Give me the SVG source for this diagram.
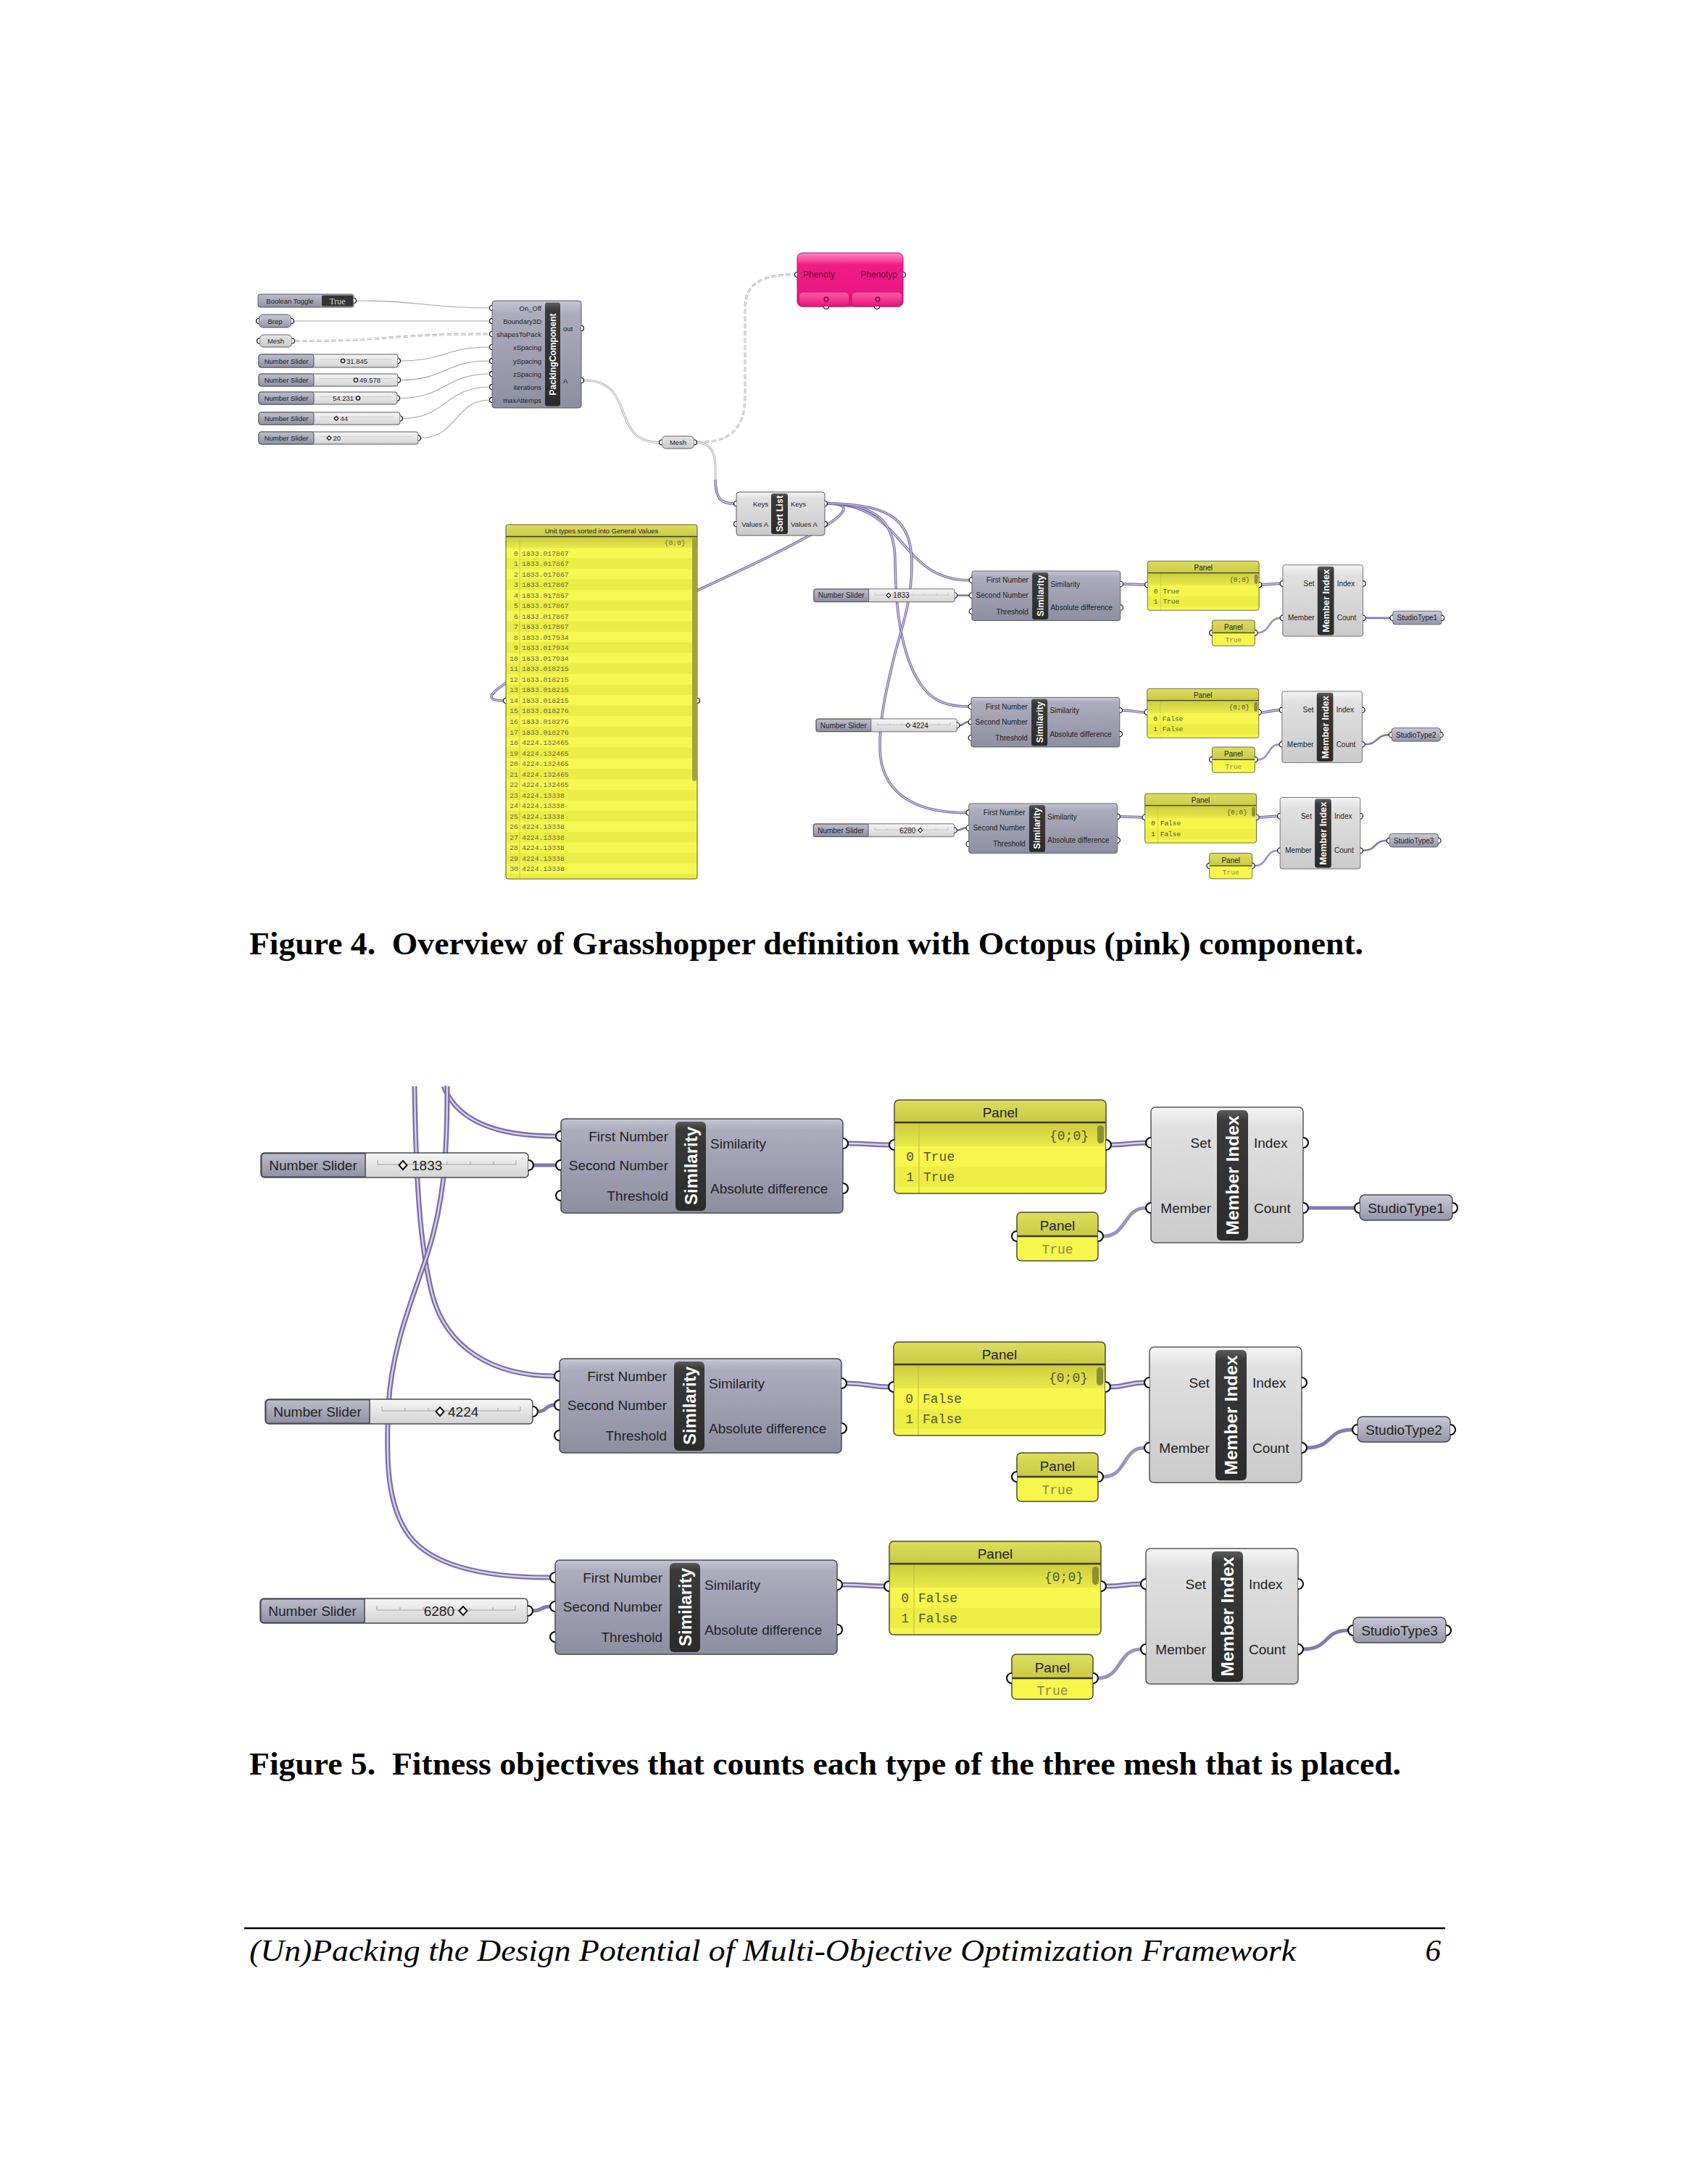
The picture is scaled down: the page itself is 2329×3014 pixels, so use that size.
<svg xmlns="http://www.w3.org/2000/svg" width="2329" height="3014" viewBox="0 0 2329 3014">
<defs>
<style>
.lb{font-family:"Liberation Sans",Arial,sans-serif;font-size:19px;fill:#222}
.s{font-family:"Liberation Sans",Arial,sans-serif;font-size:9.5px;fill:#222}
.bar{font-family:"Liberation Sans",Arial,sans-serif;font-weight:bold;font-size:24px;fill:#fff}
.bar4{font-family:"Liberation Sans",Arial,sans-serif;font-weight:bold;font-size:12px;fill:#fff}
.mo{font-family:"Liberation Mono","DejaVu Sans Mono",monospace;font-size:18px;fill:#55552c}
.mt{fill:#8a8a4c}
.mo4{font-family:"Liberation Mono","DejaVu Sans Mono",monospace;font-size:9.8px;fill:#6d6d3a}
.cap{font-family:"Liberation Serif","Times New Roman",serif;fill:#000}
.g1{fill:none;stroke:#a4a4a4;stroke-width:1.1}
.gd{fill:none;stroke:#b0b0b0;stroke-width:3}
.gdi{fill:none;stroke:#fbfbfb;stroke-width:1.1}
.dash{stroke-dasharray:7 3}
.pw{fill:none;stroke:#7a6da7;stroke-width:7}
.pwi{fill:none;stroke:#d9d3ec;stroke-width:2.4}
.ps{fill:none;stroke:#8479b0;stroke-width:5}
.pl{fill:none;stroke:#9c93c4;stroke-width:5}
.p4{fill:none;stroke:#7a6da7;stroke-width:3.6}
.p4i{fill:none;stroke:#d9d3ec;stroke-width:1.2}
.trk{fill:none;stroke:#a0a0a0;stroke-width:1}
.trk4{fill:none;stroke:#c2c2c2;stroke-width:0.8}
.dia{fill:#fff;stroke:#111;stroke-width:2}
.dia4{fill:#fff;stroke:#111;stroke-width:1.2}
.nb{stroke:#474752;stroke-width:1.5}
.nb4{stroke:#474752;stroke-width:0.9}
</style>
<linearGradient id="gSim" x1="0" y1="0" x2="0" y2="1"><stop offset="0" stop-color="#c6c6d4"/><stop offset="0.12" stop-color="#acacbd"/><stop offset="1" stop-color="#8e8ea1"/></linearGradient>
<linearGradient id="gLt" x1="0" y1="0" x2="0" y2="1"><stop offset="0" stop-color="#f5f5f5"/><stop offset="0.15" stop-color="#e0e0e0"/><stop offset="1" stop-color="#cbcbcb"/></linearGradient>
<linearGradient id="gBar" x1="0" y1="0" x2="0" y2="1"><stop offset="0" stop-color="#5c5c5c"/><stop offset="0.08" stop-color="#3a3a3a"/><stop offset="1" stop-color="#2b2b2b"/></linearGradient>
<linearGradient id="gSlL" x1="0" y1="0" x2="0" y2="1"><stop offset="0" stop-color="#bdbdcb"/><stop offset="1" stop-color="#9090a3"/></linearGradient>
<linearGradient id="gSlR" x1="0" y1="0" x2="0" y2="1"><stop offset="0" stop-color="#f6f6f6"/><stop offset="1" stop-color="#d3d3d3"/></linearGradient>
<linearGradient id="gHdr" x1="0" y1="0" x2="0" y2="1"><stop offset="0" stop-color="#dede5e"/><stop offset="1" stop-color="#c9c947"/></linearGradient>
<linearGradient id="gSub" x1="0" y1="0" x2="0" y2="1"><stop offset="0" stop-color="#cbcb3f"/><stop offset="1" stop-color="#eaea4a"/></linearGradient>
<linearGradient id="gST" x1="0" y1="0" x2="0" y2="1"><stop offset="0" stop-color="#c8c8d6"/><stop offset="1" stop-color="#9696a9"/></linearGradient>
<linearGradient id="gPink" x1="0" y1="0" x2="0" y2="1"><stop offset="0" stop-color="#ff86c4"/><stop offset="0.17" stop-color="#f73a93"/><stop offset="0.22" stop-color="#f01c86"/><stop offset="1" stop-color="#e8157e"/></linearGradient>
<linearGradient id="gPink2" x1="0" y1="0" x2="0" y2="1"><stop offset="0" stop-color="#ff5aa9"/><stop offset="1" stop-color="#e8137c"/></linearGradient>
<pattern id="stripe" patternUnits="userSpaceOnUse" x="0" y="755.7" width="20" height="29.06"><rect width="20" height="14.53" fill="#f7f752"/><rect y="14.53" width="20" height="14.53" fill="#ecec46"/></pattern>
<path id="pL" d="M0,-7A7,7 0 0 0 0,7" fill="#fff" stroke="#111" stroke-width="2.2"/>
<path id="pR" d="M0,-7A7,7 0 0 1 0,7" fill="#fff" stroke="#111" stroke-width="2.2"/>
<path id="sL" d="M0,-3.5A3.5,3.5 0 0 0 0,3.5" fill="#fff" stroke="#111" stroke-width="1.2"/>
<path id="sR" d="M0,-3.5A3.5,3.5 0 0 1 0,3.5" fill="#fff" stroke="#111" stroke-width="1.2"/>
<path id="sD" d="M-3.5,0A3.5,3.5 0 0 0 3.5,0" fill="#fff" stroke="#111" stroke-width="1.2"/>
</defs>
<rect width="2329" height="3014" fill="#fff"/>

<g id="connectors">
 <g id="wires-fig4">
  <path class="g1" d="M491.5,415 C580,415 590,425 675.5,425"/>
  <path class="g1" d="M405.5,443 L675.5,443"/>
  <path class="gd dash" d="M406.5,470.5 C540,470.5 540,461 675.5,461"/>
  <path class="gdi" d="M406.5,470.5 C540,470.5 540,461 675.5,461"/>
  <path class="g1" d="M552.5,498 C614,498 614,479 675.5,479"/>
  <path class="g1" d="M552.5,524.5 C614,524.5 614,498 675.5,498"/>
  <path class="g1" d="M551.5,549.5 C614,549.5 614,516 675.5,516"/>
  <path class="g1" d="M555.5,577.5 C615,577.5 615,534 675.5,534"/>
  <path class="g1" d="M580.5,604.5 C630,604.5 628,552 675.5,552"/>
  <path class="gd" d="M805.5,525 C880,525 840,610.5 909.5,610.5"/>
  <path class="gdi" d="M805.5,525 C880,525 840,610.5 909.5,610.5"/>
  <path class="gd dash" d="M961.5,610.5 C1010,610.5 1028,590 1028,545 L1028,425 C1028,392 1050,379 1096.5,379"/>
  <path class="gdi" d="M961.5,610.5 C1010,610.5 1028,590 1028,545 L1028,425 C1028,392 1050,379 1096.5,379"/>
  <path class="gd" d="M961.5,610.5 C980,611 987,625 987,645 L987,662"/>
  <path class="gdi" d="M961.5,610.5 C980,611 987,625 987,645 L987,662"/>
  <path class="p4" d="M987,662 C987,688 995,695 1012.5,695"/>
  <path class="p4i" d="M987,662 C987,688 995,695 1012.5,695"/>
  <path class="p4" d="M1141.5,695 C1300,695 560,967 694.5,967"/>
  <path class="p4i" d="M1141.5,695 C1300,695 560,967 694.5,967"/>
  <path class="p4" d="M1141.5,695 C1250,695 1240,800.6 1337,800.6"/>
  <path class="p4i" d="M1141.5,695 C1250,695 1240,800.6 1337,800.6"/>
  <path class="p4" d="M1141.5,695 C1215,695 1235,725 1235,775 C1236,830 1240,880 1258,922 C1275,960 1295,975 1336,975"/>
  <path class="p4i" d="M1141.5,695 C1215,695 1235,725 1235,775 C1236,830 1240,880 1258,922 C1275,960 1295,975 1336,975"/>
  <path class="p4" d="M1141.5,695 C1235,695 1258,722 1258,780 C1258,830 1243,870 1234,905 C1222,955 1214,990 1214,1030 C1214,1090 1255,1121.6 1333,1121.6"/>
  <path class="p4i" d="M1141.5,695 C1235,695 1258,722 1258,780 C1258,830 1243,870 1234,905 C1222,955 1214,990 1214,1030 C1214,1090 1255,1121.6 1333,1121.6"/>
  <g transform="matrix(0.527 0 0 0.527 933 -25.7)">
   <path class="ps" d="M736,1608 H767"/>
   <path class="pw" d="M1170,1578 C1200,1578 1200,1580 1227,1580"/><path class="pwi" d="M1170,1578 C1200,1578 1200,1580 1227,1580"/>
   <path class="pw" d="M1533,1580 C1555,1580 1558,1577 1581,1577"/><path class="pwi" d="M1533,1580 C1555,1580 1558,1577 1581,1577"/>
   <path class="pl" d="M1522,1706 C1555,1706 1550,1667 1581,1667"/>
   <path class="ps" d="M1805,1667 H1869"/>
   <path class="ps" d="M742,1948 C755,1948 752,1939 765,1939"/>
   <path class="pw" d="M1168,1909 C1200,1909 1200,1914 1226,1914"/><path class="pwi" d="M1168,1909 C1200,1909 1200,1914 1226,1914"/>
   <path class="pw" d="M1532,1914 C1555,1914 1556,1908 1579,1908"/><path class="pwi" d="M1532,1914 C1555,1914 1556,1908 1579,1908"/>
   <path class="pl" d="M1522,2038 C1555,2038 1548,1998 1579,1998"/>
   <path class="ps" d="M1803,1998 C1840,1998 1830,1973 1866,1973"/>
   <path class="ps" d="M735,2223 C748,2223 746,2217 759,2217"/>
   <path class="pw" d="M1162,2187 C1195,2187 1195,2189 1220,2189"/><path class="pwi" d="M1162,2187 C1195,2187 1195,2189 1220,2189"/>
   <path class="pw" d="M1526,2189 C1550,2189 1551,2186 1574,2186"/><path class="pwi" d="M1526,2189 C1550,2189 1551,2186 1574,2186"/>
   <path class="pl" d="M1515,2316 C1548,2316 1542,2276 1574,2276"/>
   <path class="ps" d="M1798,2276 C1835,2276 1825,2250 1860,2250"/>
  </g>
 </g>
 <g id="wires-fig5">
  <path class="pw" d="M612,1499 C630,1545 680,1568 767,1568"/><path class="pwi" d="M612,1499 C630,1545 680,1568 767,1568"/>
  <path class="pw" d="M572,1499 C574,1640 580,1720 596,1785 C615,1860 680,1899 765,1899"/><path class="pwi" d="M572,1499 C574,1640 580,1720 596,1785 C615,1860 680,1899 765,1899"/>
  <path class="pw" d="M617,1499 C617,1600 612,1660 590,1730 C570,1790 540,1860 536,1940 C532,2020 535,2080 565,2120 C600,2165 680,2177 759,2177"/><path class="pwi" d="M617,1499 C617,1600 612,1660 590,1730 C570,1790 540,1860 536,1940 C532,2020 535,2080 565,2120 C600,2165 680,2177 759,2177"/>
  <path class="ps" d="M736,1608 H767"/>
  <path class="pw" d="M1170,1578 C1200,1578 1200,1580 1227,1580"/><path class="pwi" d="M1170,1578 C1200,1578 1200,1580 1227,1580"/>
  <path class="pw" d="M1533,1580 C1555,1580 1558,1577 1581,1577"/><path class="pwi" d="M1533,1580 C1555,1580 1558,1577 1581,1577"/>
  <path class="pl" d="M1522,1706 C1555,1706 1550,1667 1581,1667"/>
  <path class="ps" d="M1805,1667 H1869"/>
  <path class="ps" d="M742,1948 C755,1948 752,1939 765,1939"/>
  <path class="pw" d="M1168,1909 C1200,1909 1200,1914 1226,1914"/><path class="pwi" d="M1168,1909 C1200,1909 1200,1914 1226,1914"/>
  <path class="pw" d="M1532,1914 C1555,1914 1556,1908 1579,1908"/><path class="pwi" d="M1532,1914 C1555,1914 1556,1908 1579,1908"/>
  <path class="pl" d="M1522,2038 C1555,2038 1548,1998 1579,1998"/>
  <path class="ps" d="M1803,1998 C1840,1998 1830,1973 1866,1973"/>
  <path class="ps" d="M735,2223 C748,2223 746,2217 759,2217"/>
  <path class="pw" d="M1162,2187 C1195,2187 1195,2189 1220,2189"/><path class="pwi" d="M1162,2187 C1195,2187 1195,2189 1220,2189"/>
  <path class="pw" d="M1526,2189 C1550,2189 1551,2186 1574,2186"/><path class="pwi" d="M1526,2189 C1550,2189 1551,2186 1574,2186"/>
  <path class="pl" d="M1515,2316 C1548,2316 1542,2276 1574,2276"/>
  <path class="ps" d="M1798,2276 C1835,2276 1825,2250 1860,2250"/>
 </g>
</g>

<g id="fig4-left">
 <g id="f4-toggle">
  <rect x="356" y="406" width="132" height="18" rx="3" fill="url(#gSlL)" class="nb4"/>
  <rect x="444" y="407.5" width="43" height="15" rx="2" fill="#333"/>
  <text class="s" x="400" y="418.5" text-anchor="middle">Boolean Toggle</text>
  <text x="465.5" y="419.5" text-anchor="middle" font-family="Liberation Serif, serif" font-size="12" fill="#d8d8d8">True</text>
  <use href="#sR" x="488" y="415"/>
 </g>
 <g id="f4-brep">
  <rect x="357" y="434" width="45" height="18" rx="6" fill="url(#gST)" class="nb4"/>
  <text class="s" x="379.5" y="446.5" text-anchor="middle">Brep</text>
  <use href="#sL" x="357" y="443"/><use href="#sR" x="402" y="443"/>
 </g>
 <g id="f4-mesh1">
  <rect x="358" y="462" width="45" height="17" rx="6" fill="url(#gLt)" class="nb4"/>
  <text class="s" x="380.5" y="474" text-anchor="middle">Mesh</text>
  <use href="#sL" x="358" y="470.5"/><use href="#sR" x="403" y="470.5"/>
 </g>
 <g id="f4-slider-a">
  <rect x="357" y="489" width="192" height="18" rx="3" fill="url(#gSlR)" class="nb4"/>
  <rect x="357" y="489" width="76" height="18" rx="3" fill="url(#gSlL)" class="nb4"/>
  <path class="trk4" d="M441,496H540"/>
  <text class="s" x="395" y="501.5" text-anchor="middle">Number Slider</text>
  <circle cx="473" cy="498" r="2.6" fill="#fff" stroke="#111" stroke-width="1.4"/>
  <text class="s" x="478" y="501.5">31.845</text>
  <use href="#sR" x="549" y="498"/>
 </g>
 <g id="f4-slider-b">
  <rect x="357" y="516" width="192" height="17" rx="3" fill="url(#gSlR)" class="nb4"/>
  <rect x="357" y="516" width="76" height="17" rx="3" fill="url(#gSlL)" class="nb4"/>
  <path class="trk4" d="M441,522.5H540"/>
  <text class="s" x="395" y="528" text-anchor="middle">Number Slider</text>
  <circle cx="491" cy="524.5" r="2.6" fill="#fff" stroke="#111" stroke-width="1.4"/>
  <text class="s" x="496" y="528">49.578</text>
  <use href="#sR" x="549" y="524.5"/>
 </g>
 <g id="f4-slider-c">
  <rect x="357" y="541" width="191" height="17" rx="3" fill="url(#gSlR)" class="nb4"/>
  <rect x="357" y="541" width="76" height="17" rx="3" fill="url(#gSlL)" class="nb4"/>
  <path class="trk4" d="M441,547.5H540"/>
  <text class="s" x="395" y="553" text-anchor="middle">Number Slider</text>
  <text class="s" x="488" y="553" text-anchor="end">54.231</text>
  <circle cx="494" cy="549.5" r="2.6" fill="#fff" stroke="#111" stroke-width="1.4"/>
  <use href="#sR" x="548" y="549.5"/>
 </g>
 <g id="f4-slider-d">
  <rect x="357" y="569" width="195" height="17" rx="3" fill="url(#gSlR)" class="nb4"/>
  <rect x="357" y="569" width="76" height="17" rx="3" fill="url(#gSlL)" class="nb4"/>
  <path class="trk4" d="M441,575.5H543"/>
  <text class="s" x="395" y="581" text-anchor="middle">Number Slider</text>
  <path class="dia4" d="M464,574.5 L467,577.5 L464,580.5 L461,577.5Z"/>
  <text class="s" x="469.5" y="581">44</text>
  <use href="#sR" x="552" y="577.5"/>
 </g>
 <g id="f4-slider-e">
  <rect x="357" y="596" width="220" height="17" rx="3" fill="url(#gSlR)" class="nb4"/>
  <rect x="357" y="596" width="76" height="17" rx="3" fill="url(#gSlL)" class="nb4"/>
  <path class="trk4" d="M441,602.5H568"/>
  <text class="s" x="395" y="608" text-anchor="middle">Number Slider</text>
  <path class="dia4" d="M454,601.5 L457,604.5 L454,607.5 L451,604.5Z"/>
  <text class="s" x="459.5" y="608">20</text>
  <use href="#sR" x="577" y="604.5"/>
 </g>
 <g id="f4-packing">
  <rect x="679" y="415" width="123" height="148" rx="4" fill="url(#gSim)" class="nb4"/>
  <rect x="752" y="417.5" width="21" height="143" rx="3" fill="url(#gBar)"/>
  <text class="bar4" transform="translate(766.8,489) rotate(-90)" text-anchor="middle" textLength="113" lengthAdjust="spacingAndGlyphs">PackingComponent</text>
  <text class="s" x="747" y="428.5" text-anchor="end">On_Off</text>
  <text class="s" x="747" y="446.5" text-anchor="end">Boundary3D</text>
  <text class="s" x="747" y="464.5" text-anchor="end">shapesToPack</text>
  <text class="s" x="747" y="482.5" text-anchor="end">xSpacing</text>
  <text class="s" x="747" y="501.5" text-anchor="end">ySpacing</text>
  <text class="s" x="747" y="519.5" text-anchor="end">zSpacing</text>
  <text class="s" x="747" y="537.5" text-anchor="end">iterations</text>
  <text class="s" x="747" y="555.5" text-anchor="end">maxAttemps</text>
  <text class="s" x="777" y="456.5">out</text>
  <text class="s" x="777" y="528.5">A</text>
  <use href="#sL" x="679" y="425"/><use href="#sL" x="679" y="443"/><use href="#sL" x="679" y="461"/><use href="#sL" x="679" y="479"/>
  <use href="#sL" x="679" y="498"/><use href="#sL" x="679" y="516"/><use href="#sL" x="679" y="534"/><use href="#sL" x="679" y="552"/>
  <use href="#sR" x="802" y="453"/><use href="#sR" x="802" y="525"/>
 </g>
 <g id="f4-mesh2">
  <rect x="913" y="602" width="45" height="17" rx="6" fill="url(#gLt)" class="nb4"/>
  <text class="s" x="935.5" y="614" text-anchor="middle">Mesh</text>
  <use href="#sL" x="913" y="610.5"/><use href="#sR" x="958" y="610.5"/>
 </g>
 <g id="f4-octopus">
  <rect x="1100" y="349" width="146" height="74" rx="7" fill="url(#gPink)" stroke="#b0105f" stroke-width="1"/>
  <rect x="1102" y="403" width="70" height="20" rx="6" fill="url(#gPink2)" stroke="#a80f5a" stroke-width="0.8"/>
  <rect x="1175" y="403" width="70" height="20" rx="6" fill="url(#gPink2)" stroke="#a80f5a" stroke-width="0.8"/>
  <text x="1108" y="383" font-family="Liberation Sans, Arial, sans-serif" font-size="12" fill="#6a0838">Phenoty</text>
  <text x="1238" y="383" text-anchor="end" font-family="Liberation Sans, Arial, sans-serif" font-size="12" fill="#6a0838">Phenotyp</text>
  <circle cx="1140" cy="413" r="2.8" fill="none" stroke="#6a0838" stroke-width="1.2"/>
  <circle cx="1211" cy="413" r="2.8" fill="none" stroke="#6a0838" stroke-width="1.2"/>
  <use href="#sL" x="1100" y="379"/><use href="#sR" x="1246" y="379"/>
  <use href="#sD" x="1140" y="423"/><use href="#sD" x="1210" y="423"/>
 </g>
 <g id="f4-sortlist">
  <rect x="1016" y="679" width="122" height="60" rx="4" fill="url(#gLt)" class="nb4"/>
  <rect x="1064" y="681" width="23" height="56" rx="3" fill="url(#gBar)"/>
  <text class="bar4" transform="translate(1079.8,709) rotate(-90)" text-anchor="middle" textLength="50" lengthAdjust="spacingAndGlyphs">Sort List</text>
  <text class="s" x="1060" y="698.5" text-anchor="end">Keys</text>
  <text class="s" x="1060" y="726.5" text-anchor="end">Values A</text>
  <text class="s" x="1091" y="698.5">Keys</text>
  <text class="s" x="1091" y="726.5">Values A</text>
  <use href="#sL" x="1016" y="695"/><use href="#sL" x="1016" y="723"/>
  <use href="#sR" x="1138" y="695"/><use href="#sR" x="1138" y="723"/>
 </g>
 <g id="f4-bigpanel">
  <rect x="698" y="724" width="264" height="489" rx="3" fill="url(#stripe)"/>
  <path d="M701,724H959A3,3 0 0 1 962,727V740H698V727A3,3 0 0 1 701,724Z" fill="url(#gHdr)"/>
  <rect x="698" y="740.5" width="264" height="16" fill="url(#gSub)"/>
  <line x1="698" y1="740.5" x2="962" y2="740.5" stroke="#3e3e1e" stroke-width="1.3"/>
  <line x1="717" y1="741" x2="717" y2="1212" stroke="#c2c24a" stroke-width="0.8"/>
  <rect x="955" y="742" width="6" height="336" rx="3" fill="#a3a33a"/>
  <rect x="698" y="724" width="264" height="489" rx="3" fill="none" stroke="#5a5a2a" stroke-width="1"/>
  <text class="s" x="830" y="735.5" text-anchor="middle">Unit types sorted into General Values</text>
  <text class="mo4" x="946" y="752" text-anchor="end" font-size="8.5">{0;0}</text>
  <text class="mo4" text-anchor="end"><tspan x="715" y="766.5">0</tspan><tspan x="715" y="781">1</tspan><tspan x="715" y="795.6">2</tspan><tspan x="715" y="810.1">3</tspan><tspan x="715" y="824.6">4</tspan><tspan x="715" y="839.2">5</tspan><tspan x="715" y="853.7">6</tspan><tspan x="715" y="868.2">7</tspan><tspan x="715" y="882.7">8</tspan><tspan x="715" y="897.3">9</tspan><tspan x="715" y="911.8">10</tspan><tspan x="715" y="926.3">11</tspan><tspan x="715" y="940.9">12</tspan><tspan x="715" y="955.4">13</tspan><tspan x="715" y="969.9">14</tspan><tspan x="715" y="984.4">15</tspan><tspan x="715" y="999">16</tspan><tspan x="715" y="1013.5">17</tspan><tspan x="715" y="1028">18</tspan><tspan x="715" y="1042.6">19</tspan><tspan x="715" y="1057.1">20</tspan><tspan x="715" y="1071.6">21</tspan><tspan x="715" y="1086.2">22</tspan><tspan x="715" y="1100.7">23</tspan><tspan x="715" y="1115.2">24</tspan><tspan x="715" y="1129.7">25</tspan><tspan x="715" y="1144.3">26</tspan><tspan x="715" y="1158.8">27</tspan><tspan x="715" y="1173.3">28</tspan><tspan x="715" y="1187.9">29</tspan><tspan x="715" y="1202.4">30</tspan></text>
  <text class="mo4"><tspan x="720" y="766.5">1833.017867</tspan><tspan x="720" y="781">1833.017867</tspan><tspan x="720" y="795.6">1833.017867</tspan><tspan x="720" y="810.1">1833.017867</tspan><tspan x="720" y="824.6">1833.017867</tspan><tspan x="720" y="839.2">1833.017867</tspan><tspan x="720" y="853.7">1833.017867</tspan><tspan x="720" y="868.2">1833.017867</tspan><tspan x="720" y="882.7">1833.017934</tspan><tspan x="720" y="897.3">1833.017934</tspan><tspan x="720" y="911.8">1833.017934</tspan><tspan x="720" y="926.3">1833.018215</tspan><tspan x="720" y="940.9">1833.018215</tspan><tspan x="720" y="955.4">1833.018215</tspan><tspan x="720" y="969.9">1833.018215</tspan><tspan x="720" y="984.4">1833.018276</tspan><tspan x="720" y="999">1833.018276</tspan><tspan x="720" y="1013.5">1833.018276</tspan><tspan x="720" y="1028">4224.132465</tspan><tspan x="720" y="1042.6">4224.132465</tspan><tspan x="720" y="1057.1">4224.132465</tspan><tspan x="720" y="1071.6">4224.132465</tspan><tspan x="720" y="1086.2">4224.132465</tspan><tspan x="720" y="1100.7">4224.13338</tspan><tspan x="720" y="1115.2">4224.13338</tspan><tspan x="720" y="1129.7">4224.13338</tspan><tspan x="720" y="1144.3">4224.13338</tspan><tspan x="720" y="1158.8">4224.13338</tspan><tspan x="720" y="1173.3">4224.13338</tspan><tspan x="720" y="1187.9">4224.13338</tspan><tspan x="720" y="1202.4">4224.13338</tspan></text>
  <use href="#sL" x="698" y="967"/><use href="#sR" x="962" y="967"/>
 </g>
</g>

<g id="fig4-right" transform="matrix(0.527 0 0 0.527 933 -25.7)">
 <g id="f4-slider1" transform="translate(360,1591)"><rect width="369" height="34" rx="5" fill="url(#gSlR)" class="nb"/><path d="M144,0.75H5A4.25,4.25 0 0 0 0.75,5V29A4.25,4.25 0 0 0 5,33.25H144Z" fill="url(#gSlL)" class="nb"/><text class="lb" x="72" y="24" text-anchor="middle">Number Slider</text><path class="trk" d="M161,16H352M161,10V16M193,12V16M225,12V16M257,12V16M289,12V16M321,12V16M352,10V16"/><path class="dia" d="M196,11L201.5,17L196,23L190.5,17Z"/><text class="lb" x="208" y="24">1833</text><use href="#pR" x="369" y="17"/></g>
 <g id="f4-sim1" transform="translate(774,1544)"><rect width="389" height="130" rx="6" fill="url(#gSim)" class="nb"/><rect x="158" y="4" width="42" height="123" rx="6" fill="url(#gBar)"/><text class="bar" transform="translate(187.5,65) rotate(-90)" text-anchor="middle" textLength="108" lengthAdjust="spacingAndGlyphs">Similarity</text><text class="lb" x="148" y="31" text-anchor="end">First Number</text><text class="lb" x="148" y="71" text-anchor="end">Second Number</text><text class="lb" x="148" y="113" text-anchor="end">Threshold</text><text class="lb" x="206" y="41">Similarity</text><text class="lb" x="206" y="103">Absolute difference</text><use href="#pL" x="0" y="24"/><use href="#pL" x="0" y="64"/><use href="#pL" x="0" y="106"/><use href="#pR" x="389" y="34"/><use href="#pR" x="389" y="96"/></g>
 <g id="f4-panel1" transform="translate(1234,1518)"><rect width="292" height="129" rx="6" fill="#f6f64c"/><rect y="92" width="292" height="28" fill="#eded44"/><path d="M6,0H286A6,6 0 0 1 292,6V31H0V6A6,6 0 0 1 6,0Z" fill="url(#gHdr)"/><rect y="31" width="292" height="33" fill="url(#gSub)"/><line x1="34" y1="31" x2="34" y2="128" stroke="#b9b93e"/><line x1="0" y1="31" x2="292" y2="31" stroke="#3e3e1e" stroke-width="2.5"/><rect x="280" y="35" width="9" height="25" rx="4.5" fill="#8e8e36"/><rect width="292" height="129" rx="6" fill="none" stroke="#4d4d28" stroke-width="1.5"/><text class="lb" x="146" y="24" text-anchor="middle">Panel</text><text class="mo" x="268" y="55" text-anchor="end">{0;0}</text><text class="mo" x="27" y="84" text-anchor="end">0</text><text class="mo" x="40" y="84">True</text><text class="mo" x="27" y="112" text-anchor="end">1</text><text class="mo" x="40" y="112">True</text><use href="#pL" x="0" y="62"/><use href="#pR" x="292" y="62"/></g>
 <g id="f4-memidx1" transform="translate(1588,1528)"><rect width="210" height="187" rx="6" fill="url(#gLt)" stroke="#555" stroke-width="1.5"/><rect x="91" y="4" width="43" height="180" rx="6" fill="url(#gBar)"/><text class="bar" transform="translate(121,94) rotate(-90)" text-anchor="middle" textLength="165" lengthAdjust="spacingAndGlyphs">Member Index</text><text class="lb" x="83" y="56" text-anchor="end">Set</text><text class="lb" x="83" y="146" text-anchor="end">Member</text><text class="lb" x="142" y="56">Index</text><text class="lb" x="142" y="146">Count</text><use href="#pL" x="0" y="49"/><use href="#pL" x="0" y="139"/><use href="#pR" x="210" y="49"/><use href="#pR" x="210" y="139"/></g>
 <g id="f4-tpanel1" transform="translate(1403,1673)"><rect width="112" height="67" rx="6" fill="#f6f64c"/><path d="M6,0H106A6,6 0 0 1 112,6V33H0V6A6,6 0 0 1 6,0Z" fill="url(#gHdr)"/><line x1="0" y1="33" x2="112" y2="33" stroke="#3e3e1e" stroke-width="2.5"/><rect width="112" height="67" rx="6" fill="none" stroke="#4d4d28" stroke-width="1.5"/><text class="lb" x="56" y="25" text-anchor="middle">Panel</text><text class="mo mt" x="56" y="57" text-anchor="middle">True</text><use href="#pL" x="0" y="33"/><use href="#pR" x="112" y="33"/></g>
 <g id="f4-studio1" transform="translate(1876,1649)"><rect width="128" height="35" rx="7" fill="url(#gST)" class="nb"/><text class="lb" x="64" y="25" text-anchor="middle">StudioType1</text><use href="#pL" x="0" y="18"/><use href="#pR" x="128" y="18"/></g>

 <g id="f4-slider2" transform="translate(366,1931)"><rect width="369" height="34" rx="5" fill="url(#gSlR)" class="nb"/><path d="M144,0.75H5A4.25,4.25 0 0 0 0.75,5V29A4.25,4.25 0 0 0 5,33.25H144Z" fill="url(#gSlL)" class="nb"/><text class="lb" x="72" y="24" text-anchor="middle">Number Slider</text><path class="trk" d="M161,16H352M161,10V16M193,12V16M225,12V16M257,12V16M289,12V16M321,12V16M352,10V16"/><path class="dia" d="M241,11L246.5,17L241,23L235.5,17Z"/><text class="lb" x="252" y="24">4224</text><use href="#pR" x="369" y="17"/></g>
 <g id="f4-sim2" transform="translate(772,1875)"><rect width="389" height="130" rx="6" fill="url(#gSim)" class="nb"/><rect x="158" y="4" width="42" height="123" rx="6" fill="url(#gBar)"/><text class="bar" transform="translate(187.5,65) rotate(-90)" text-anchor="middle" textLength="108" lengthAdjust="spacingAndGlyphs">Similarity</text><text class="lb" x="148" y="31" text-anchor="end">First Number</text><text class="lb" x="148" y="71" text-anchor="end">Second Number</text><text class="lb" x="148" y="113" text-anchor="end">Threshold</text><text class="lb" x="206" y="41">Similarity</text><text class="lb" x="206" y="103">Absolute difference</text><use href="#pL" x="0" y="24"/><use href="#pL" x="0" y="64"/><use href="#pL" x="0" y="106"/><use href="#pR" x="389" y="34"/><use href="#pR" x="389" y="96"/></g>
 <g id="f4-panel2" transform="translate(1233,1852)"><rect width="292" height="129" rx="6" fill="#f6f64c"/><rect y="92" width="292" height="28" fill="#eded44"/><path d="M6,0H286A6,6 0 0 1 292,6V31H0V6A6,6 0 0 1 6,0Z" fill="url(#gHdr)"/><rect y="31" width="292" height="33" fill="url(#gSub)"/><line x1="34" y1="31" x2="34" y2="128" stroke="#b9b93e"/><line x1="0" y1="31" x2="292" y2="31" stroke="#3e3e1e" stroke-width="2.5"/><rect x="280" y="35" width="9" height="25" rx="4.5" fill="#8e8e36"/><rect width="292" height="129" rx="6" fill="none" stroke="#4d4d28" stroke-width="1.5"/><text class="lb" x="146" y="24" text-anchor="middle">Panel</text><text class="mo" x="268" y="55" text-anchor="end">{0;0}</text><text class="mo" x="27" y="84" text-anchor="end">0</text><text class="mo" x="40" y="84">False</text><text class="mo" x="27" y="112" text-anchor="end">1</text><text class="mo" x="40" y="112">False</text><use href="#pL" x="0" y="62"/><use href="#pR" x="292" y="62"/></g>
 <g id="f4-memidx2" transform="translate(1586,1859)"><rect width="210" height="187" rx="6" fill="url(#gLt)" stroke="#555" stroke-width="1.5"/><rect x="91" y="4" width="43" height="180" rx="6" fill="url(#gBar)"/><text class="bar" transform="translate(121,94) rotate(-90)" text-anchor="middle" textLength="165" lengthAdjust="spacingAndGlyphs">Member Index</text><text class="lb" x="83" y="56" text-anchor="end">Set</text><text class="lb" x="83" y="146" text-anchor="end">Member</text><text class="lb" x="142" y="56">Index</text><text class="lb" x="142" y="146">Count</text><use href="#pL" x="0" y="49"/><use href="#pL" x="0" y="139"/><use href="#pR" x="210" y="49"/><use href="#pR" x="210" y="139"/></g>
 <g id="f4-tpanel2" transform="translate(1403,2005)"><rect width="112" height="67" rx="6" fill="#f6f64c"/><path d="M6,0H106A6,6 0 0 1 112,6V33H0V6A6,6 0 0 1 6,0Z" fill="url(#gHdr)"/><line x1="0" y1="33" x2="112" y2="33" stroke="#3e3e1e" stroke-width="2.5"/><rect width="112" height="67" rx="6" fill="none" stroke="#4d4d28" stroke-width="1.5"/><text class="lb" x="56" y="25" text-anchor="middle">Panel</text><text class="mo mt" x="56" y="57" text-anchor="middle">True</text><use href="#pL" x="0" y="33"/><use href="#pR" x="112" y="33"/></g>
 <g id="f4-studio2" transform="translate(1873,1955)"><rect width="128" height="35" rx="7" fill="url(#gST)" class="nb"/><text class="lb" x="64" y="25" text-anchor="middle">StudioType2</text><use href="#pL" x="0" y="18"/><use href="#pR" x="128" y="18"/></g>

 <g id="f4-slider3" transform="translate(359,2206)"><rect width="369" height="34" rx="5" fill="url(#gSlR)" class="nb"/><path d="M144,0.75H5A4.25,4.25 0 0 0 0.75,5V29A4.25,4.25 0 0 0 5,33.25H144Z" fill="url(#gSlL)" class="nb"/><text class="lb" x="72" y="24" text-anchor="middle">Number Slider</text><path class="trk" d="M161,16H352M161,10V16M193,12V16M225,12V16M257,12V16M289,12V16M321,12V16M352,10V16"/><text class="lb" x="268" y="24" text-anchor="end">6280</text><path class="dia" d="M280,11L285.5,17L280,23L274.5,17Z"/><use href="#pR" x="369" y="17"/></g>
 <g id="f4-sim3" transform="translate(766,2153)"><rect width="389" height="130" rx="6" fill="url(#gSim)" class="nb"/><rect x="158" y="4" width="42" height="123" rx="6" fill="url(#gBar)"/><text class="bar" transform="translate(187.5,65) rotate(-90)" text-anchor="middle" textLength="108" lengthAdjust="spacingAndGlyphs">Similarity</text><text class="lb" x="148" y="31" text-anchor="end">First Number</text><text class="lb" x="148" y="71" text-anchor="end">Second Number</text><text class="lb" x="148" y="113" text-anchor="end">Threshold</text><text class="lb" x="206" y="41">Similarity</text><text class="lb" x="206" y="103">Absolute difference</text><use href="#pL" x="0" y="24"/><use href="#pL" x="0" y="64"/><use href="#pL" x="0" y="106"/><use href="#pR" x="389" y="34"/><use href="#pR" x="389" y="96"/></g>
 <g id="f4-panel3" transform="translate(1227,2127)"><rect width="292" height="129" rx="6" fill="#f6f64c"/><rect y="92" width="292" height="28" fill="#eded44"/><path d="M6,0H286A6,6 0 0 1 292,6V31H0V6A6,6 0 0 1 6,0Z" fill="url(#gHdr)"/><rect y="31" width="292" height="33" fill="url(#gSub)"/><line x1="34" y1="31" x2="34" y2="128" stroke="#b9b93e"/><line x1="0" y1="31" x2="292" y2="31" stroke="#3e3e1e" stroke-width="2.5"/><rect x="280" y="35" width="9" height="25" rx="4.5" fill="#8e8e36"/><rect width="292" height="129" rx="6" fill="none" stroke="#4d4d28" stroke-width="1.5"/><text class="lb" x="146" y="24" text-anchor="middle">Panel</text><text class="mo" x="268" y="55" text-anchor="end">{0;0}</text><text class="mo" x="27" y="84" text-anchor="end">0</text><text class="mo" x="40" y="84">False</text><text class="mo" x="27" y="112" text-anchor="end">1</text><text class="mo" x="40" y="112">False</text><use href="#pL" x="0" y="62"/><use href="#pR" x="292" y="62"/></g>
 <g id="f4-memidx3" transform="translate(1581,2137)"><rect width="210" height="187" rx="6" fill="url(#gLt)" stroke="#555" stroke-width="1.5"/><rect x="91" y="4" width="43" height="180" rx="6" fill="url(#gBar)"/><text class="bar" transform="translate(121,94) rotate(-90)" text-anchor="middle" textLength="165" lengthAdjust="spacingAndGlyphs">Member Index</text><text class="lb" x="83" y="56" text-anchor="end">Set</text><text class="lb" x="83" y="146" text-anchor="end">Member</text><text class="lb" x="142" y="56">Index</text><text class="lb" x="142" y="146">Count</text><use href="#pL" x="0" y="49"/><use href="#pL" x="0" y="139"/><use href="#pR" x="210" y="49"/><use href="#pR" x="210" y="139"/></g>
 <g id="f4-tpanel3" transform="translate(1396,2283)"><rect width="112" height="67" rx="6" fill="#f6f64c"/><path d="M6,0H106A6,6 0 0 1 112,6V33H0V6A6,6 0 0 1 6,0Z" fill="url(#gHdr)"/><line x1="0" y1="33" x2="112" y2="33" stroke="#3e3e1e" stroke-width="2.5"/><rect width="112" height="67" rx="6" fill="none" stroke="#4d4d28" stroke-width="1.5"/><text class="lb" x="56" y="25" text-anchor="middle">Panel</text><text class="mo mt" x="56" y="57" text-anchor="middle">True</text><use href="#pL" x="0" y="33"/><use href="#pR" x="112" y="33"/></g>
 <g id="f4-studio3" transform="translate(1867,2232)"><rect width="128" height="35" rx="7" fill="url(#gST)" class="nb"/><text class="lb" x="64" y="25" text-anchor="middle">StudioType3</text><use href="#pL" x="0" y="18"/><use href="#pR" x="128" y="18"/></g>
</g>

<g id="fig5">
 <g id="f5-slider1" transform="translate(360,1591)"><rect width="369" height="34" rx="5" fill="url(#gSlR)" class="nb"/><path d="M144,0.75H5A4.25,4.25 0 0 0 0.75,5V29A4.25,4.25 0 0 0 5,33.25H144Z" fill="url(#gSlL)" class="nb"/><text class="lb" x="72" y="24" text-anchor="middle">Number Slider</text><path class="trk" d="M161,16H352M161,10V16M193,12V16M225,12V16M257,12V16M289,12V16M321,12V16M352,10V16"/><path class="dia" d="M196,11L201.5,17L196,23L190.5,17Z"/><text class="lb" x="208" y="24">1833</text><use href="#pR" x="369" y="17"/></g>
 <g id="f5-sim1" transform="translate(774,1544)"><rect width="389" height="130" rx="6" fill="url(#gSim)" class="nb"/><rect x="158" y="4" width="42" height="123" rx="6" fill="url(#gBar)"/><text class="bar" transform="translate(187.5,65) rotate(-90)" text-anchor="middle" textLength="108" lengthAdjust="spacingAndGlyphs">Similarity</text><text class="lb" x="148" y="31" text-anchor="end">First Number</text><text class="lb" x="148" y="71" text-anchor="end">Second Number</text><text class="lb" x="148" y="113" text-anchor="end">Threshold</text><text class="lb" x="206" y="41">Similarity</text><text class="lb" x="206" y="103">Absolute difference</text><use href="#pL" x="0" y="24"/><use href="#pL" x="0" y="64"/><use href="#pL" x="0" y="106"/><use href="#pR" x="389" y="34"/><use href="#pR" x="389" y="96"/></g>
 <g id="f5-panel1" transform="translate(1234,1518)"><rect width="292" height="129" rx="6" fill="#f6f64c"/><rect y="92" width="292" height="28" fill="#eded44"/><path d="M6,0H286A6,6 0 0 1 292,6V31H0V6A6,6 0 0 1 6,0Z" fill="url(#gHdr)"/><rect y="31" width="292" height="33" fill="url(#gSub)"/><line x1="34" y1="31" x2="34" y2="128" stroke="#b9b93e"/><line x1="0" y1="31" x2="292" y2="31" stroke="#3e3e1e" stroke-width="2.5"/><rect x="280" y="35" width="9" height="25" rx="4.5" fill="#8e8e36"/><rect width="292" height="129" rx="6" fill="none" stroke="#4d4d28" stroke-width="1.5"/><text class="lb" x="146" y="24" text-anchor="middle">Panel</text><text class="mo" x="268" y="55" text-anchor="end">{0;0}</text><text class="mo" x="27" y="84" text-anchor="end">0</text><text class="mo" x="40" y="84">True</text><text class="mo" x="27" y="112" text-anchor="end">1</text><text class="mo" x="40" y="112">True</text><use href="#pL" x="0" y="62"/><use href="#pR" x="292" y="62"/></g>
 <g id="f5-memidx1" transform="translate(1588,1528)"><rect width="210" height="187" rx="6" fill="url(#gLt)" stroke="#555" stroke-width="1.5"/><rect x="91" y="4" width="43" height="180" rx="6" fill="url(#gBar)"/><text class="bar" transform="translate(121,94) rotate(-90)" text-anchor="middle" textLength="165" lengthAdjust="spacingAndGlyphs">Member Index</text><text class="lb" x="83" y="56" text-anchor="end">Set</text><text class="lb" x="83" y="146" text-anchor="end">Member</text><text class="lb" x="142" y="56">Index</text><text class="lb" x="142" y="146">Count</text><use href="#pL" x="0" y="49"/><use href="#pL" x="0" y="139"/><use href="#pR" x="210" y="49"/><use href="#pR" x="210" y="139"/></g>
 <g id="f5-tpanel1" transform="translate(1403,1673)"><rect width="112" height="67" rx="6" fill="#f6f64c"/><path d="M6,0H106A6,6 0 0 1 112,6V33H0V6A6,6 0 0 1 6,0Z" fill="url(#gHdr)"/><line x1="0" y1="33" x2="112" y2="33" stroke="#3e3e1e" stroke-width="2.5"/><rect width="112" height="67" rx="6" fill="none" stroke="#4d4d28" stroke-width="1.5"/><text class="lb" x="56" y="25" text-anchor="middle">Panel</text><text class="mo mt" x="56" y="57" text-anchor="middle">True</text><use href="#pL" x="0" y="33"/><use href="#pR" x="112" y="33"/></g>
 <g id="f5-studio1" transform="translate(1876,1649)"><rect width="128" height="35" rx="7" fill="url(#gST)" class="nb"/><text class="lb" x="64" y="25" text-anchor="middle">StudioType1</text><use href="#pL" x="0" y="18"/><use href="#pR" x="128" y="18"/></g>

 <g id="f5-slider2" transform="translate(366,1931)"><rect width="369" height="34" rx="5" fill="url(#gSlR)" class="nb"/><path d="M144,0.75H5A4.25,4.25 0 0 0 0.75,5V29A4.25,4.25 0 0 0 5,33.25H144Z" fill="url(#gSlL)" class="nb"/><text class="lb" x="72" y="24" text-anchor="middle">Number Slider</text><path class="trk" d="M161,16H352M161,10V16M193,12V16M225,12V16M257,12V16M289,12V16M321,12V16M352,10V16"/><path class="dia" d="M241,11L246.5,17L241,23L235.5,17Z"/><text class="lb" x="252" y="24">4224</text><use href="#pR" x="369" y="17"/></g>
 <g id="f5-sim2" transform="translate(772,1875)"><rect width="389" height="130" rx="6" fill="url(#gSim)" class="nb"/><rect x="158" y="4" width="42" height="123" rx="6" fill="url(#gBar)"/><text class="bar" transform="translate(187.5,65) rotate(-90)" text-anchor="middle" textLength="108" lengthAdjust="spacingAndGlyphs">Similarity</text><text class="lb" x="148" y="31" text-anchor="end">First Number</text><text class="lb" x="148" y="71" text-anchor="end">Second Number</text><text class="lb" x="148" y="113" text-anchor="end">Threshold</text><text class="lb" x="206" y="41">Similarity</text><text class="lb" x="206" y="103">Absolute difference</text><use href="#pL" x="0" y="24"/><use href="#pL" x="0" y="64"/><use href="#pL" x="0" y="106"/><use href="#pR" x="389" y="34"/><use href="#pR" x="389" y="96"/></g>
 <g id="f5-panel2" transform="translate(1233,1852)"><rect width="292" height="129" rx="6" fill="#f6f64c"/><rect y="92" width="292" height="28" fill="#eded44"/><path d="M6,0H286A6,6 0 0 1 292,6V31H0V6A6,6 0 0 1 6,0Z" fill="url(#gHdr)"/><rect y="31" width="292" height="33" fill="url(#gSub)"/><line x1="34" y1="31" x2="34" y2="128" stroke="#b9b93e"/><line x1="0" y1="31" x2="292" y2="31" stroke="#3e3e1e" stroke-width="2.5"/><rect x="280" y="35" width="9" height="25" rx="4.5" fill="#8e8e36"/><rect width="292" height="129" rx="6" fill="none" stroke="#4d4d28" stroke-width="1.5"/><text class="lb" x="146" y="24" text-anchor="middle">Panel</text><text class="mo" x="268" y="55" text-anchor="end">{0;0}</text><text class="mo" x="27" y="84" text-anchor="end">0</text><text class="mo" x="40" y="84">False</text><text class="mo" x="27" y="112" text-anchor="end">1</text><text class="mo" x="40" y="112">False</text><use href="#pL" x="0" y="62"/><use href="#pR" x="292" y="62"/></g>
 <g id="f5-memidx2" transform="translate(1586,1859)"><rect width="210" height="187" rx="6" fill="url(#gLt)" stroke="#555" stroke-width="1.5"/><rect x="91" y="4" width="43" height="180" rx="6" fill="url(#gBar)"/><text class="bar" transform="translate(121,94) rotate(-90)" text-anchor="middle" textLength="165" lengthAdjust="spacingAndGlyphs">Member Index</text><text class="lb" x="83" y="56" text-anchor="end">Set</text><text class="lb" x="83" y="146" text-anchor="end">Member</text><text class="lb" x="142" y="56">Index</text><text class="lb" x="142" y="146">Count</text><use href="#pL" x="0" y="49"/><use href="#pL" x="0" y="139"/><use href="#pR" x="210" y="49"/><use href="#pR" x="210" y="139"/></g>
 <g id="f5-tpanel2" transform="translate(1403,2005)"><rect width="112" height="67" rx="6" fill="#f6f64c"/><path d="M6,0H106A6,6 0 0 1 112,6V33H0V6A6,6 0 0 1 6,0Z" fill="url(#gHdr)"/><line x1="0" y1="33" x2="112" y2="33" stroke="#3e3e1e" stroke-width="2.5"/><rect width="112" height="67" rx="6" fill="none" stroke="#4d4d28" stroke-width="1.5"/><text class="lb" x="56" y="25" text-anchor="middle">Panel</text><text class="mo mt" x="56" y="57" text-anchor="middle">True</text><use href="#pL" x="0" y="33"/><use href="#pR" x="112" y="33"/></g>
 <g id="f5-studio2" transform="translate(1873,1955)"><rect width="128" height="35" rx="7" fill="url(#gST)" class="nb"/><text class="lb" x="64" y="25" text-anchor="middle">StudioType2</text><use href="#pL" x="0" y="18"/><use href="#pR" x="128" y="18"/></g>

 <g id="f5-slider3" transform="translate(359,2206)"><rect width="369" height="34" rx="5" fill="url(#gSlR)" class="nb"/><path d="M144,0.75H5A4.25,4.25 0 0 0 0.75,5V29A4.25,4.25 0 0 0 5,33.25H144Z" fill="url(#gSlL)" class="nb"/><text class="lb" x="72" y="24" text-anchor="middle">Number Slider</text><path class="trk" d="M161,16H352M161,10V16M193,12V16M225,12V16M257,12V16M289,12V16M321,12V16M352,10V16"/><text class="lb" x="268" y="24" text-anchor="end">6280</text><path class="dia" d="M280,11L285.5,17L280,23L274.5,17Z"/><use href="#pR" x="369" y="17"/></g>
 <g id="f5-sim3" transform="translate(766,2153)"><rect width="389" height="130" rx="6" fill="url(#gSim)" class="nb"/><rect x="158" y="4" width="42" height="123" rx="6" fill="url(#gBar)"/><text class="bar" transform="translate(187.5,65) rotate(-90)" text-anchor="middle" textLength="108" lengthAdjust="spacingAndGlyphs">Similarity</text><text class="lb" x="148" y="31" text-anchor="end">First Number</text><text class="lb" x="148" y="71" text-anchor="end">Second Number</text><text class="lb" x="148" y="113" text-anchor="end">Threshold</text><text class="lb" x="206" y="41">Similarity</text><text class="lb" x="206" y="103">Absolute difference</text><use href="#pL" x="0" y="24"/><use href="#pL" x="0" y="64"/><use href="#pL" x="0" y="106"/><use href="#pR" x="389" y="34"/><use href="#pR" x="389" y="96"/></g>
 <g id="f5-panel3" transform="translate(1227,2127)"><rect width="292" height="129" rx="6" fill="#f6f64c"/><rect y="92" width="292" height="28" fill="#eded44"/><path d="M6,0H286A6,6 0 0 1 292,6V31H0V6A6,6 0 0 1 6,0Z" fill="url(#gHdr)"/><rect y="31" width="292" height="33" fill="url(#gSub)"/><line x1="34" y1="31" x2="34" y2="128" stroke="#b9b93e"/><line x1="0" y1="31" x2="292" y2="31" stroke="#3e3e1e" stroke-width="2.5"/><rect x="280" y="35" width="9" height="25" rx="4.5" fill="#8e8e36"/><rect width="292" height="129" rx="6" fill="none" stroke="#4d4d28" stroke-width="1.5"/><text class="lb" x="146" y="24" text-anchor="middle">Panel</text><text class="mo" x="268" y="55" text-anchor="end">{0;0}</text><text class="mo" x="27" y="84" text-anchor="end">0</text><text class="mo" x="40" y="84">False</text><text class="mo" x="27" y="112" text-anchor="end">1</text><text class="mo" x="40" y="112">False</text><use href="#pL" x="0" y="62"/><use href="#pR" x="292" y="62"/></g>
 <g id="f5-memidx3" transform="translate(1581,2137)"><rect width="210" height="187" rx="6" fill="url(#gLt)" stroke="#555" stroke-width="1.5"/><rect x="91" y="4" width="43" height="180" rx="6" fill="url(#gBar)"/><text class="bar" transform="translate(121,94) rotate(-90)" text-anchor="middle" textLength="165" lengthAdjust="spacingAndGlyphs">Member Index</text><text class="lb" x="83" y="56" text-anchor="end">Set</text><text class="lb" x="83" y="146" text-anchor="end">Member</text><text class="lb" x="142" y="56">Index</text><text class="lb" x="142" y="146">Count</text><use href="#pL" x="0" y="49"/><use href="#pL" x="0" y="139"/><use href="#pR" x="210" y="49"/><use href="#pR" x="210" y="139"/></g>
 <g id="f5-tpanel3" transform="translate(1396,2283)"><rect width="112" height="62" rx="6" fill="#f6f64c"/><path d="M6,0H106A6,6 0 0 1 112,6V33H0V6A6,6 0 0 1 6,0Z" fill="url(#gHdr)"/><line x1="0" y1="33" x2="112" y2="33" stroke="#3e3e1e" stroke-width="2.5"/><rect width="112" height="62" rx="6" fill="none" stroke="#4d4d28" stroke-width="1.5"/><text class="lb" x="56" y="25" text-anchor="middle">Panel</text><text class="mo mt" x="56" y="56" text-anchor="middle">True</text><use href="#pL" x="0" y="33"/><use href="#pR" x="112" y="33"/></g>
 <g id="f5-studio3" transform="translate(1867,2232)"><rect width="128" height="35" rx="7" fill="url(#gST)" class="nb"/><text class="lb" x="64" y="25" text-anchor="middle">StudioType3</text><use href="#pL" x="0" y="18"/><use href="#pR" x="128" y="18"/></g>
</g>

<g id="captions">
 <text class="cap" x="344" y="1317" font-size="44" font-weight="bold" textLength="1537" lengthAdjust="spacingAndGlyphs">Figure 4.&#160; Overview of Grasshopper definition with Octopus (pink) component.</text>
 <text class="cap" x="344" y="2449" font-size="44" font-weight="bold" textLength="1589" lengthAdjust="spacingAndGlyphs">Figure 5.&#160; Fitness objectives that counts each type of the three mesh that is placed.</text>
 <line x1="337" y1="2661" x2="1994" y2="2661" stroke="#000" stroke-width="2.5"/>
 <text class="cap" x="344" y="2706" font-size="43" font-style="italic" textLength="1444" lengthAdjust="spacingAndGlyphs">(Un)Packing the Design Potential of Multi-Objective Optimization Framework</text>
 <text class="cap" x="1988" y="2706" font-size="43" font-style="italic" text-anchor="end">6</text>
</g>
</svg>
